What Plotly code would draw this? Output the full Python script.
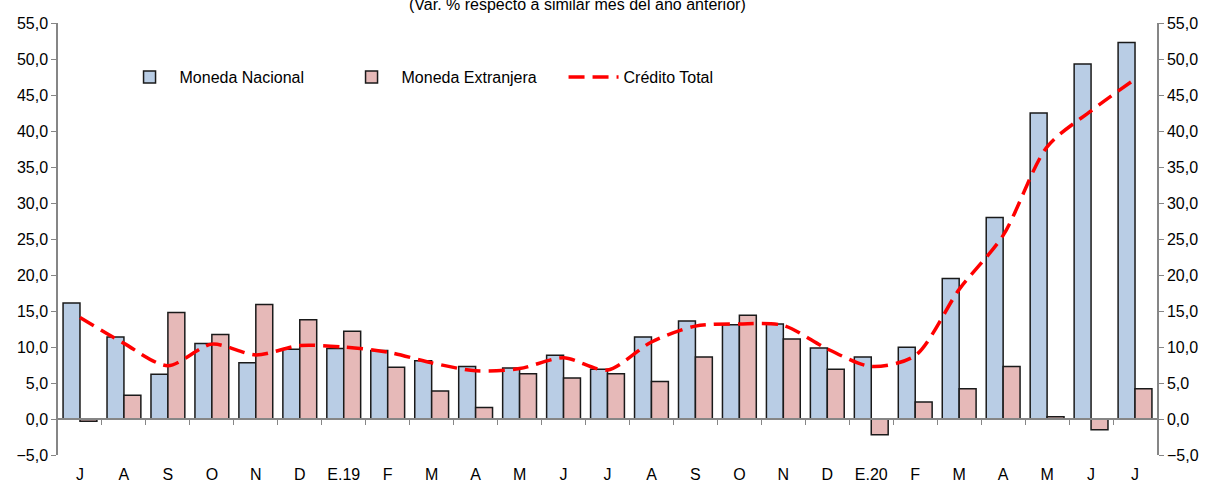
import plotly.graph_objects as go

labels = ["J", "A", "S", "O", "N", "D", "E.19", "F", "M", "A", "M", "J", "J",
          "A", "S", "O", "N", "D", "E.20", "F", "M", "A", "M", "J", "J"]
moneda_nacional = [16.1, 11.4, 6.2, 10.5, 7.8, 9.7, 9.8, 9.5, 8.1, 7.3, 7.1, 8.85, 6.9,
                   11.4, 13.6, 13.1, 13.2, 9.85, 8.6, 9.95, 19.5, 28.0, 42.5, 49.3, 52.3]
moneda_extranjera = [-0.3, 3.3, 14.8, 11.75, 15.9, 13.8, 12.2, 7.2, 3.9, 1.6, 6.3, 5.7, 6.3,
                     5.2, 8.6, 14.4, 11.1, 6.9, -2.2, 2.35, 4.2, 7.3, 0.3, -1.5, 4.2]
credito_total = [14.1, 10.5, 7.4, 10.4, 8.9, 10.2, 10.0, 9.3, 7.8, 6.7, 7.0, 8.5, 6.8,
                 10.7, 12.9, 13.2, 13.0, 9.75, 7.3, 8.8, 18.0, 25.5, 37.8, 42.8, 47.2]
yticks = [-5, 0, 5, 10, 15, 20, 25, 30, 35, 40, 45, 50, 55]

x = list(range(len(labels)))
font_family = "Liberation Sans, Arial, sans-serif"
FS = 16

fig = go.Figure()
fig.add_trace(go.Bar(x=x, y=moneda_nacional, name="Moneda Nacional",
                     marker=dict(color="#B9CDE5", line=dict(color="#1a1a1a", width=1.5))))
fig.add_trace(go.Bar(x=x, y=moneda_extranjera, name="Moneda Extranjera",
                     marker=dict(color="#E6B9B8", line=dict(color="#1a1a1a", width=1.5))))
fig.add_trace(go.Scatter(x=x, y=credito_total, name="Crédito Total", mode="lines",
                         line=dict(color="#FF0000", width=3.5, dash="16px,8px", shape="spline",
                                   smoothing=0.8)))
# invisible trace to activate the right-hand axis
fig.add_trace(go.Scatter(x=x, y=credito_total, yaxis="y2", mode="lines",
                         line=dict(color="rgba(0,0,0,0)"), showlegend=False, hoverinfo="skip"))
# invisible trace for category boundary ticks on the zero line
fig.add_trace(go.Scatter(x=x, y=credito_total, xaxis="x2", mode="lines",
                         line=dict(color="rgba(0,0,0,0)"), showlegend=False, hoverinfo="skip"))

yrange = [-5, 55]
fig.update_layout(
    width=1206, height=482,
    margin=dict(l=58, r=49, t=23, b=27, autoexpand=False),
    paper_bgcolor="white", plot_bgcolor="white",
    separators=",.",
    font=dict(family=font_family, size=FS, color="#000000"),
    barmode="group", bargap=0.23, bargroupgap=0,
    showlegend=True,
    legend=dict(orientation="h", x=0.056, y=0.875, xanchor="left", yanchor="middle",
                font=dict(size=FS), bgcolor="rgba(0,0,0,0)", traceorder="normal",
                itemwidth=50, entrywidth=157, entrywidthmode="pixels"),
    xaxis=dict(range=[-0.5, len(labels) - 0.5], tickmode="array", tickvals=x, ticktext=labels,
               showline=False, showgrid=False, zeroline=False, ticks="outside", ticklen=5,
               tickcolor="rgba(0,0,0,0)", tickfont=dict(size=FS), automargin=False),
    xaxis2=dict(overlaying="x", anchor="free", position=5 / 60, side="bottom",
                range=[-0.5, len(labels) - 0.5], tickmode="array",
                tickvals=[i + 0.5 for i in range(len(labels) - 1)],
                showticklabels=False, ticks="outside", ticklen=5, tickcolor="#868686",
                showline=True, linecolor="#868686", linewidth=1.5, showgrid=False,
                zeroline=False, automargin=False),
    yaxis=dict(range=yrange, tickmode="array", tickvals=yticks, tickformat=".1f",
               showline=True, linecolor="#868686", linewidth=1.5, ticks="outside", ticklen=5,
               tickcolor="#868686", showgrid=False, zeroline=False, tickfont=dict(size=FS),
               automargin=False),
    yaxis2=dict(range=yrange, overlaying="y", side="right", tickmode="array", tickvals=yticks,
                tickformat=".1f", showline=True, linecolor="#868686", linewidth=1.5,
                ticks="outside", ticklen=5, tickcolor="#868686", showgrid=False, zeroline=False,
                tickfont=dict(size=FS), automargin=False),
    annotations=[dict(text="(Var. % respecto a similar mes del año anterior)", xref="paper",
                      yref="paper", x=0.473, y=1 + 18.5 / 432, xanchor="center", yanchor="middle",
                      showarrow=False, font=dict(size=FS))],
)

fig.write_html("out.html", config={"displayModeBar": False},
               post_script="document.body.style.margin='0';document.body.style.overflow='hidden';")
